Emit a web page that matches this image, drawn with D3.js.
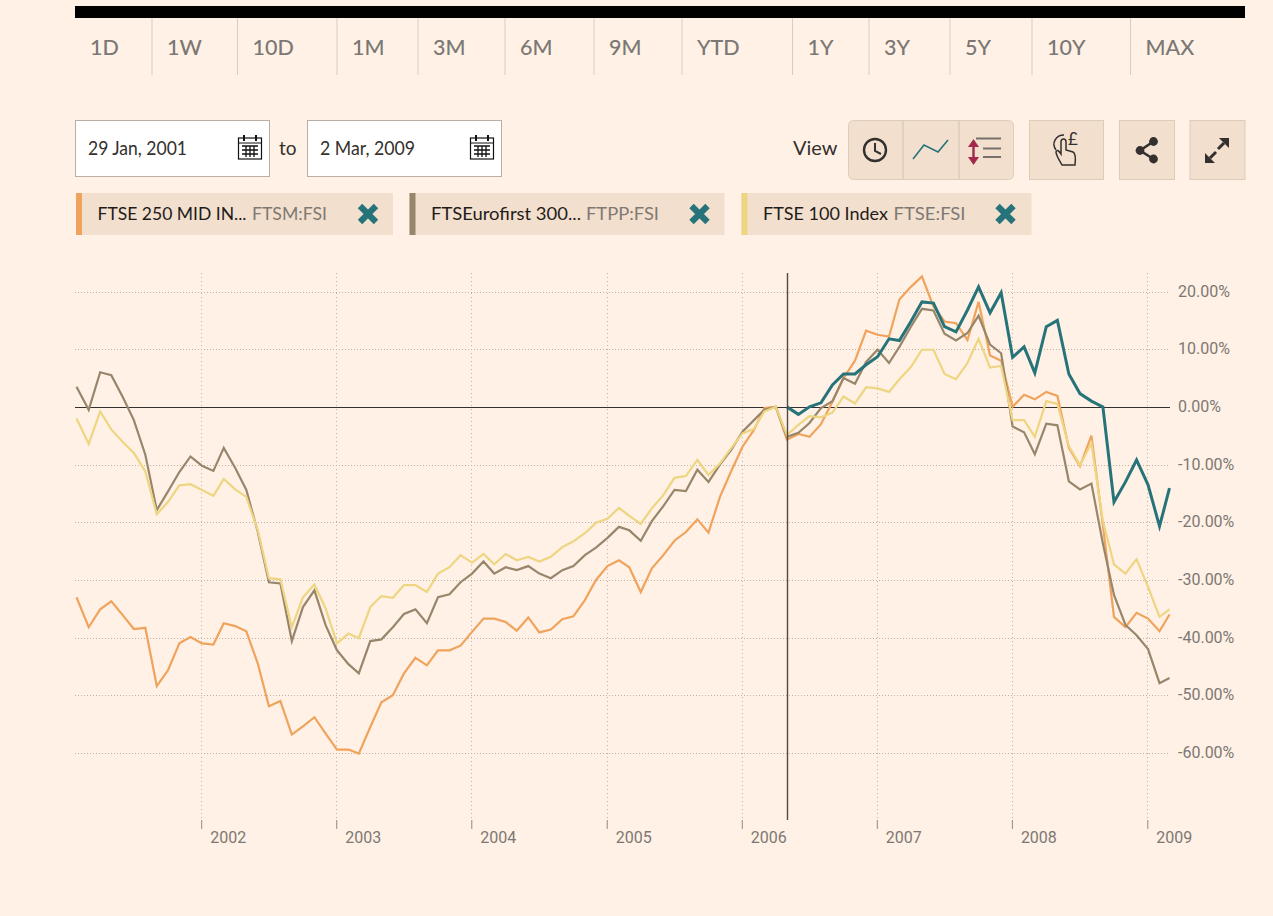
<!DOCTYPE html>
<html>
  <head>
    <title>FTSE comparison</title>
    <meta charset="utf-8">
    <script src="https://cdn.jsdelivr.net/npm/d3@7"></script>
    <style>
      html, body { margin: 0; background: #fff1e5; overflow: hidden; }
      svg { display: block; }
      text { font-family: Lato, "Open Sans", sans-serif; }
      .axis text { font-family: Roboto, sans-serif; font-size: 16px; fill: #7d7873; }
      .axis path { display: none; }
    </style>
  </head>
  <body>
  </body>
<script>
// monthly closes, % change
const ftse250 = [-33, -38.2, -35.1, -33.7, -36.1, -38.5, -38.3, -48.4, -45.7, -41, -39.9, -41, -41.2, -37.5, -38, -38.9, -44.5, -51.9, -51, -56.8, -55.4, -53.8, -56.6, -59.4, -59.4, -60.1, -55.5, -51.2, -50, -46.2, -43.5, -44.8, -42.2, -42.2, -41.4, -39, -36.7, -36.7, -37.3, -38.8, -36.5, -39.1, -38.6, -36.8, -36.3, -33.5, -30, -27.6, -26.6, -27.8, -32.1, -28, -25.7, -23.2, -21.7, -19.5, -21.8, -15.6, -11.2, -6.9, -4, -0.2, 0, -5.7, -4.7, -5.2, -3, 0.9, 5, 8, 13.2, 12.5, 12.2, 18.6, 20.8, 22.6, 17.4, 14.8, 14.5, 11.6, 18.2, 8.9, 8, 0, 2.1, 1.3, 2.6, 1.9, -7.1, -10.3, -5, -20.5, -36.4, -38.2, -35.7, -36.7, -38.9, -36];
const eurofirst = [3.5, -0.5, 6, 5.5, 1.7, -2.3, -8.3, -17.9, -14.7, -11.3, -8.6, -10.2, -11.1, -7.1, -10.6, -14.4, -21.7, -30.4, -30.6, -40.6, -34.7, -31.8, -37.8, -42.2, -44.6, -46.2, -40.6, -40.3, -38.2, -35.9, -35.1, -37.5, -33, -32.5, -30.4, -28.9, -26.8, -28.9, -27.8, -28.3, -27.6, -28.9, -29.7, -28.3, -27.6, -25.7, -24.4, -22.7, -20.8, -21.4, -23.2, -19.8, -17.2, -14.4, -14.6, -10.9, -13, -10, -7.5, -4.3, -2.3, -0.5, 0, -5.2, -4.5, -2.8, -0.2, 1, 5, 4, 7.8, 9.9, 7.6, 10.4, 13.9, 17, 16.7, 12.7, 11.5, 12.8, 15.8, 10.8, 9.3, -3.4, -4.4, -8.2, -2.9, -3.2, -12.9, -14.3, -13.3, -23.7, -32.6, -37.8, -39.6, -42, -47.9, -47];
const ftse100 = [-2, -6.4, -0.8, -3.9, -6.1, -8, -11.2, -18.6, -16.5, -13.6, -13.4, -14.4, -15.4, -12.5, -14.3, -15.6, -21.4, -29.7, -29.9, -38.2, -33, -30.8, -34.9, -41, -39.3, -40.1, -34.7, -32.8, -33.1, -30.9, -30.9, -32.1, -28.9, -27.8, -25.7, -27, -25.5, -27.3, -25.5, -26.6, -26, -26.8, -26, -24.3, -23.3, -21.9, -20.1, -19.4, -17.5, -18.9, -20.3, -17.6, -15.3, -12.3, -12, -9.2, -11.8, -9.8, -7.2, -4.6, -3.8, -0.8, 0, -4.9, -3.1, -1.6, -1.8, -1, 1.8, 0.6, 3.4, 3.2, 2.6, 4.8, 6.9, 9.9, 9.9, 5.7, 4.8, 7.6, 11.8, 6.8, 7.1, -2.3, -2.3, -5.2, 1, 0.5, -6.8, -10.1, -6.3, -19.8, -27.3, -28.9, -26.4, -31.2, -36.4, -35.1];
// main instrument only starts at the cursor date
const mainSeries = [0, -1.3, 0, 0.7, 3.8, 5.7, 5.7, 7.3, 8.7, 11.8, 11.5, 14.8, 18.2, 18, 13.9, 13, 16.8, 20.8, 16.3, 19.8, 8.6, 10.4, 5.9, 13.9, 15, 5.7, 2.3, 1, 0, -16.5, -13, -9.2, -13.5, -20.7, -14.1];

const startDate = new Date(2001, 0, 29);
const endDate = new Date(2009, 2, 2);
const dates = [startDate, ...d3.timeMonth.range(new Date(2001, 2, 1), new Date(2009, 2, 1)).map(function(d) { return d3.timeDay.offset(d, 2); }), endDate];
const cursorDate = dates[63];

const yTicks = [20, 10, 0, -10, -20, -30, -40, -50, -60];
const rangeLabels = ["1D", "1W", "10D", "1M", "3M", "6M", "9M", "YTD", "1Y", "3Y", "5Y", "10Y", "MAX"];
const chipNames = ["FTSE 250 MID IN...", "FTSEurofirst 300...", "FTSE 100 Index"];
const chipTickers = ["FTSM:FSI", "FTPP:FSI", "FTSE:FSI"];

const orange = "#f0a35c", grey = "#98866c", yellow = "#eed581", teal = "#26747a";
const chipBg = "#f2dfce", chipLine = "#dccdbb";

const svg = d3.select("body").append("svg").attr("width", 1273).attr("height", 916);

const x = d3.scaleTime().domain([startDate, endDate]).range([76.5, 1169.5]);
const y = d3.scaleLinear().domain([20, -60]).range([291.5, 753]);

// ---- top range tabs
svg.append("rect").attr("x", 75).attr("y", 6).attr("width", 1170).attr("height", 12).attr("fill", "#000");
const tabLefts = [75, 152, 237.5, 337, 418, 505, 594, 682, 792.5, 869, 950, 1032, 1130.5];
svg.selectAll(".tab").data(rangeLabels).enter().append("text")
  .attr("class", "tab")
  .attr("x", function(d, i) { return tabLefts[i] + 15; })
  .attr("y", 55)
  .attr("font-size", 21.5)
  .attr("font-weight", 500)
  .attr("fill", "#7b7774")
  .text(function(d) { return d; });
svg.selectAll(".tabsep").data(tabLefts.slice(1)).enter().append("line")
  .attr("x1", function(d) { return d; }).attr("x2", function(d) { return d; })
  .attr("y1", 18).attr("y2", 75)
  .attr("stroke", "#dbcdbd");

// ---- date boxes
function calendar(cx, cy) {
  var g = svg.append("g").attr("transform", "translate(" + cx + "," + cy + ")").attr("fill", "none").attr("stroke", "#111");
  g.append("rect").attr("x", -11.5).attr("y", -9).attr("width", 23).attr("height", 21).attr("stroke-width", 1.2);
  g.append("path").attr("d", "M-11.5-4H11.5").attr("stroke-width", 1);
  g.append("path").attr("d", "M-8 -1H8M-8 3H8M-8 7H8M-4-1V10M0-1V10M4-1V10").attr("stroke-width", 1.3);
  g.append("path").attr("d", "M-6-12V-6M6-12V-6").attr("stroke-width", 2);
}
function dateBox(left, label, width) {
  svg.append("rect").attr("x", left + 0.5).attr("y", 120.5).attr("width", 194).attr("height", 56)
    .attr("fill", "#fff").attr("stroke", "#b9afa6");
  svg.append("text").attr("x", left + 13).attr("y", 155).attr("font-size", 18.5).attr("fill", "#33302e")
    .attr("textLength", width).attr("lengthAdjust", "spacingAndGlyphs").text(label);
  calendar(left + 175, 147);
}
dateBox(75, "29 Jan, 2001", 99);
dateBox(307, "2 Mar, 2009", 95);
svg.append("text").attr("x", 279).attr("y", 155).attr("font-size", 19).attr("fill", "#33302e").text("to");
svg.append("text").attr("x", 793).attr("y", 155).attr("font-size", 20).attr("fill", "#33302e").text("View");

// ---- view buttons
svg.append("rect").attr("x", 848.5).attr("y", 120.5).attr("width", 165).attr("height", 59).attr("rx", 5)
  .attr("fill", chipBg).attr("stroke", chipLine);
svg.selectAll(".viewsep").data([903, 959]).enter().append("line")
  .attr("x1", function(d) { return d; }).attr("x2", function(d) { return d; })
  .attr("y1", 120).attr("y2", 180).attr("stroke", chipLine).attr("stroke-width", 1.5);
[[1029, 74], [1119, 55], [1189.5, 55]].forEach(function(b) {
  svg.append("rect").attr("x", b[0] + 0.5).attr("y", 120.5).attr("width", b[1]).attr("height", 59)
    .attr("fill", chipBg).attr("stroke", chipLine);
});

// clock
svg.append("circle").attr("cx", 875).attr("cy", 150).attr("r", 11).attr("fill", "none").attr("stroke", "#33302e").attr("stroke-width", 2.4);
svg.append("path").attr("d", "M875 143V151L881 154").attr("fill", "none").attr("stroke", "#33302e").attr("stroke-width", 2);
// mini line
svg.append("path").attr("d", "M913 159L924 145L938 152L948 140").attr("fill", "none").attr("stroke", teal).attr("stroke-width", 1.6);
// arrows and rows
svg.append("path").attr("d", "M973.5 146V158").attr("stroke", "#a3284d").attr("stroke-width", 2.4);
svg.append("path").attr("d", "M973.5 139L979 147H968ZM973.5 165L979 157H968Z").attr("fill", "#a3284d");
svg.append("path").attr("d", "M976 138.5H1001M983 148.5H1001M983 157H1001").attr("stroke", "#77706a").attr("stroke-width", 1.8);
// finger and pound sign
svg.append("path").attr("d", "M1062 165C1058 158 1056 155 1056 152C1057 149 1059 151 1061 154V142C1061 138 1066 138 1066 142V150L1073 152C1075 153 1076 156 1075 165Z")
  .attr("fill", "none").attr("stroke", "#33302e").attr("stroke-width", 1.5);
svg.append("path").attr("d", "M1056 150C1051 143 1056 135 1064 135").attr("fill", "none").attr("stroke", "#33302e").attr("stroke-width", 1.5);
svg.append("text").attr("x", 1068).attr("y", 145).attr("font-size", 17).attr("fill", "#33302e").text("£");
// share
svg.append("path").attr("d", "M1153.5 141.5L1140 150.5L1153.5 159").attr("fill", "none").attr("stroke", "#33302e").attr("stroke-width", 2.6);
svg.selectAll(".sharedot").data([[1153.5, 141.5], [1140, 150.5], [1153.5, 159]]).enter().append("circle")
  .attr("cx", function(d) { return d[0]; }).attr("cy", function(d) { return d[1]; }).attr("r", 4.4).attr("fill", "#33302e");
// expand
svg.append("path").attr("d", "M1229 138H1219L1229 148ZM1205 163H1215L1205 153Z").attr("fill", "#33302e");
svg.append("path").attr("d", "M1224 143L1218 149M1210 158L1216 152").attr("stroke", "#33302e").attr("stroke-width", 3);

// ---- legend chips
const chipLefts = [76, 409.5, 741.5];
const chipRights = [393, 724.5, 1031.5];
const chipColors = [orange, grey, yellow];
const crossAt = [368, 699.5, 1005.5];
const nameWidths = [149, 150, 125];
const tickerLefts = [252, 586, 893.5];
const tickerWidths = [75, 73, 72];
chipNames.forEach(function(name, i) {
  svg.append("rect").attr("x", chipLefts[i]).attr("y", 193).attr("width", chipRights[i] - chipLefts[i]).attr("height", 42).attr("fill", chipBg);
  svg.append("rect").attr("x", chipLefts[i]).attr("y", 193).attr("width", 6).attr("height", 42).attr("fill", chipColors[i]);
  svg.append("text").attr("x", chipLefts[i] + 21.5).attr("y", 220).attr("font-size", 18).attr("fill", "#1f1c1a")
    .attr("textLength", nameWidths[i]).attr("lengthAdjust", "spacingAndGlyphs").text(name);
  svg.append("text").attr("x", tickerLefts[i]).attr("y", 220).attr("font-size", 18).attr("fill", "#7f7973")
    .attr("textLength", tickerWidths[i]).attr("lengthAdjust", "spacingAndGlyphs").text(chipTickers[i]);
  svg.append("path")
    .attr("d", "M-8-8L8 8M-8 8L8-8")
    .attr("transform", "translate(" + crossAt[i] + ",214)")
    .attr("stroke", teal).attr("stroke-width", 6.2);
});

// ---- grid
const gridTop = 273, gridBottom = 820;
const yearTicks = d3.timeYear.range(new Date(2002, 0, 1), new Date(2009, 1, 1));
function crisp(v) { return Math.round(v) + 0.5; }
svg.append("g").selectAll("line").data(yTicks).enter().append("line")
  .attr("x1", 75).attr("x2", 1170)
  .attr("y1", function(d) { return crisp(y(d)); }).attr("y2", function(d) { return crisp(y(d)); })
  .attr("stroke", "#bfb3a6").attr("stroke-dasharray", "1,2");
svg.append("g").selectAll("line").data(yearTicks).enter().append("line")
  .attr("x1", function(d) { return crisp(x(d)); }).attr("x2", function(d) { return crisp(x(d)); })
  .attr("y1", gridTop).attr("y2", gridBottom)
  .attr("stroke", "#bfb3a6").attr("stroke-dasharray", "1,3");

// ---- axes
const yAxis = d3.axisRight(y).tickValues(yTicks).tickSize(0).tickPadding(8)
  .tickFormat(function(d) { return d.toFixed(2) + "%"; });
const yg = svg.append("g").attr("class", "axis").attr("transform", "translate(1170,0)").call(yAxis);
yg.selectAll("text").attr("y", -0.5);

const xAxis = d3.axisBottom(x).tickValues(yearTicks).tickSize(9).tickFormat(d3.timeFormat("%Y"));
const xg = svg.append("g").attr("class", "axis").attr("transform", "translate(0," + gridBottom + ")").call(xAxis);
xg.selectAll("line").attr("stroke", "#8f8a85");
xg.selectAll("text").attr("text-anchor", "start").attr("x", 8.5).attr("y", 12);

// zero line
svg.append("line").attr("x1", 75).attr("x2", 1170).attr("y1", crisp(y(0))).attr("y2", crisp(y(0)))
  .attr("stroke", "#33302e").attr("stroke-width", 1.2);

// ---- lines
const line = d3.line()
  .x(function(d) { return x(d.date); })
  .y(function(d) { return y(d.value); });

function drawSeries(values, seriesDates, color, width) {
  svg.append("path")
    .datum(values.map(function(v, i) { return { date: seriesDates[i], value: v }; }))
    .attr("d", line)
    .attr("fill", "none")
    .attr("stroke", color)
    .attr("stroke-width", width)
    .attr("stroke-linejoin", "miter");
}
drawSeries(ftse250, dates, orange, 2.2);
drawSeries(eurofirst, dates, grey, 2.2);
drawSeries(ftse100, dates, yellow, 2.2);
drawSeries(mainSeries, dates.slice(63), teal, 3);

// cursor
svg.append("line").attr("x1", crisp(x(cursorDate))).attr("x2", crisp(x(cursorDate))).attr("y1", gridTop).attr("y2", gridBottom)
  .attr("stroke", "#4f4a46").attr("stroke-width", 1.4);
</script>
</html>
